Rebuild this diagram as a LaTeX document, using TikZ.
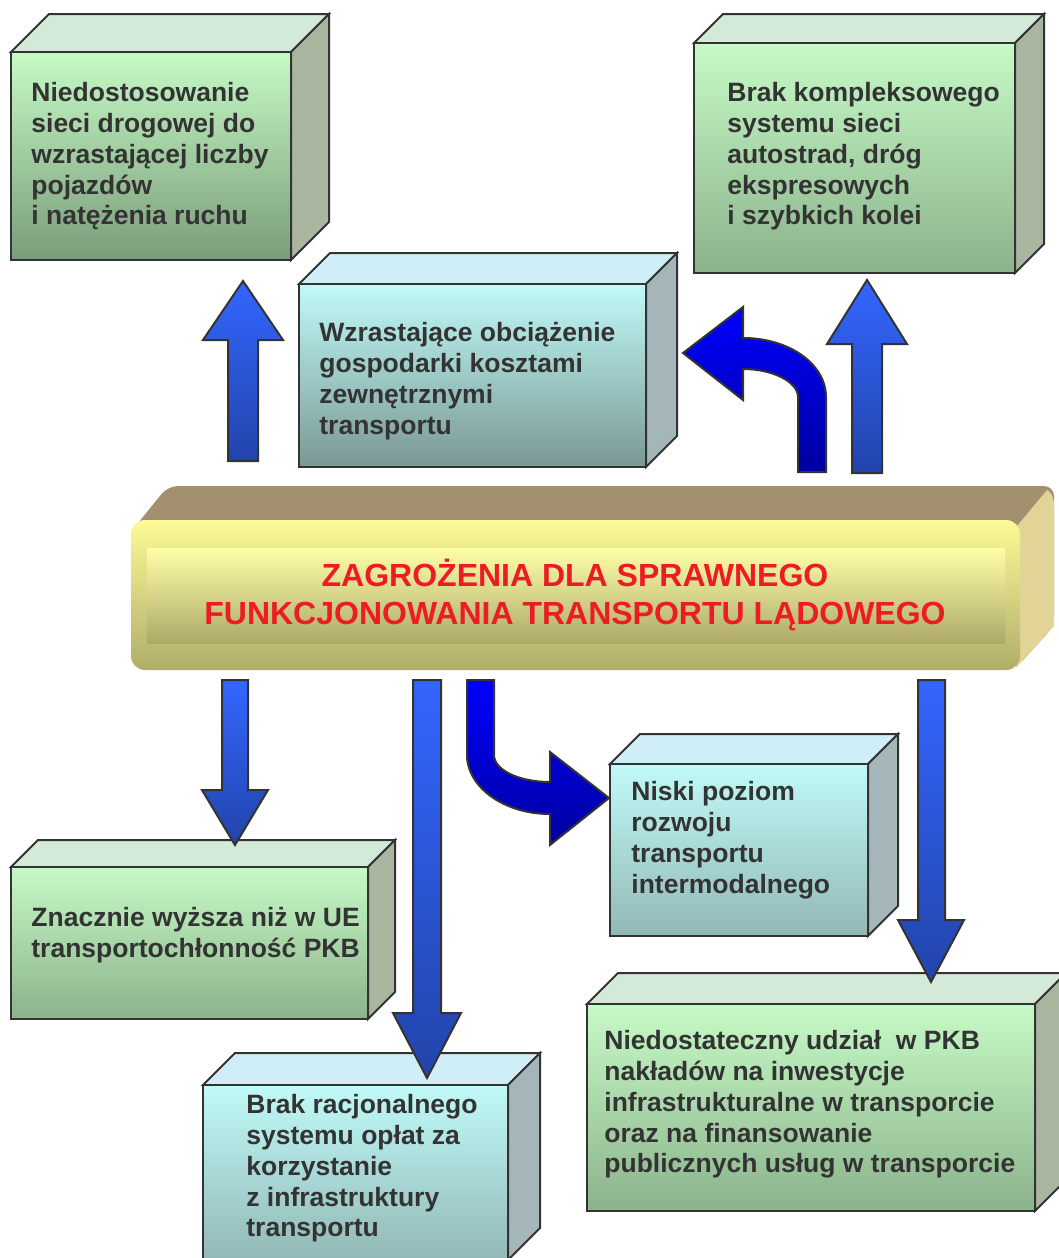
\documentclass[tikz,border=0pt]{standalone}
\usepackage{fontspec}
\setmainfont{Liberation Sans}
\definecolor{edgec}{RGB}{51,51,51}
\definecolor{txt}{RGB}{51,51,51}
\definecolor{gtop}{RGB}{212,234,216}
\definecolor{gside}{RGB}{168,182,160}
\definecolor{gfront}{RGB}{198,250,198}
\definecolor{gbotA}{RGB}{122,156,122}
\definecolor{gbotB}{RGB}{140,178,140}
\definecolor{ctop}{RGB}{208,238,248}
\definecolor{cside}{RGB}{164,182,186}
\definecolor{cfront}{RGB}{192,250,248}
\definecolor{cbotA}{RGB}{122,152,148}
\definecolor{cbotB}{RGB}{146,184,182}
\definecolor{arT}{RGB}{51,102,255}
\definecolor{arB}{RGB}{34,68,170}
\definecolor{caT}{RGB}{0,0,255}
\definecolor{caB}{RGB}{0,0,160}
\definecolor{ttl}{RGB}{237,28,36}
\definecolor{tanc}{RGB}{163,144,110}
\definecolor{beige}{RGB}{225,212,150}
\definecolor{yT}{RGB}{252,251,150}
\definecolor{yM}{RGB}{235,232,140}
\definecolor{yB}{RGB}{176,173,106}
\definecolor{yiT}{RGB}{254,254,168}
\definecolor{yiM}{RGB}{238,236,150}
\definecolor{yiB}{RGB}{172,170,104}
\newcommand\cubebox[8]{%
  \path[faceline, fill=#7top] (#2,#3) -- (#2+#6,#3-#6) -- (#4+#6,#3-#6) -- (#4,#3) -- cycle;
  \path[faceline, fill=#7side] (#4,#3) -- (#4+#6,#3-#6) -- (#4+#6,#5-#6) -- (#4,#5) -- cycle;
  \path[faceline, top color=#7front, bottom color=#8] (#2,#3) rectangle (#4,#5);
  \coordinate (#1) at (#2,#3);}
\tikzset{
  faceline/.style={draw=edgec, line width=1pt, line join=miter},
  boxtext/.style={anchor=north west, inner sep=0pt, align=left, text=txt,
    font=\fontsize{13.25}{15.4}\selectfont\bfseries},
  titletext/.style={anchor=base, inner sep=0pt, text=ttl,
    font=\fontsize{16}{19}\selectfont\bfseries},
  straightarrow/.style={draw=edgec, line width=1pt, line join=miter, top color=arT, bottom color=arB},
  curvedarrow/.style={draw=edgec, line width=1pt, line join=miter, top color=caT, bottom color=caB}
}
\begin{document}
\begin{tikzpicture}[x=0.5pt,y=-0.5pt]
\useasboundingbox (0,0) rectangle (1059,1258);
\clip (0,0) rectangle (1059,1258);

% ---- boxes ----
\cubebox{b1}{11}{52}{291}{260}{38}{g}{gbotA}
\cubebox{b2}{694}{43}{1015}{273}{29}{g}{gbotB}
\cubebox{b3}{299}{284}{646}{467}{31}{c}{cbotA}
\cubebox{b4}{610}{764}{868}{936}{30}{c}{cbotB}
\cubebox{b5}{11}{867}{368}{1019}{27}{g}{gbotB}
\cubebox{b6}{203}{1085}{508}{1260}{32}{c}{cbotB}
\cubebox{b7}{587}{1004}{1035}{1211}{31}{g}{gbotB}

\node[boxtext] (t1) at (31,82) {Niedostosowanie\\sieci drogowej do\\wzrastającej liczby\\pojazdów\\i natężenia ruchu};
\node[boxtext] (t2) at (727,82) {Brak kompleksowego\\systemu sieci\\autostrad, dróg\\ekspresowych\\i szybkich kolei};
\node[boxtext] (t3) at (319,322) {Wzrastające obciążenie\\gospodarki kosztami\\zewnętrznymi\\transportu};
\node[boxtext] (t4) at (631,781) {Niski poziom\\rozwoju\\transportu\\intermodalnego};
\node[boxtext] (t5) at (31,907) {Znacznie wyższa niż w UE\\transportochłonność PKB};
\node[boxtext] (t6) at (246,1094) {Brak racjonalnego\\systemu opłat za\\korzystanie\\z infrastruktury\\transportu};
\node[boxtext] (t7) at (604,1030) {Niedostateczny udział\ \ w PKB\\nakładów na inwestycje\\infrastrukturalne w transporcie\\oraz na finansowanie\\publicznych usług w transporcie};

% ---- main box ----
\path[fill=tanc, rounded corners=5pt] (134,528) -- (168,486) -- (1054,486) -- (1054,626) -- (1016,668) -- cycle;
\path[fill=beige] (1012,532) -- (1047,490) .. controls (1051,492) and (1054,497) .. (1054,506) -- (1054,626) -- (1016,668) -- cycle;
\path[rounded corners=7pt, top color=yT, middle color=yM, bottom color=yB] (131,520) rectangle (1020,670);
\path[top color=yiT, middle color=yiM, bottom color=yiB] (147,548) rectangle (1005,643);
\coordinate (main) at (575,595);
\node[titletext] (title1) at (575,586) {ZAGROŻENIA DLA SPRAWNEGO};
\node[titletext] (title2) at (575,624) {FUNKCJONOWANIA TRANSPORTU LĄDOWEGO};

% ---- arrows ----
\path[straightarrow] (228,461) -- (228,340) -- (203,340) -- (243,281) -- (283,340) -- (258,340) -- (258,461) -- cycle;
\path[straightarrow] (852,473) -- (852,344) -- (827,344) -- (867,280) -- (907,344) -- (882,344) -- (882,473) -- cycle;
\path[curvedarrow] (798,472) -- (798,397) .. controls (798,382) and (773,369) .. (743,369) -- (743,400) -- (683,353) -- (743,307) -- (743,338) .. controls (789,338) and (826,364) .. (826,397) -- (826,472) -- cycle;

\path[straightarrow] (222,680) -- (248,680) -- (248,790) -- (268,790) -- (235,845) -- (202,790) -- (222,790) -- cycle;
\path[straightarrow] (413,680) -- (441,680) -- (441,1013) -- (461,1013) -- (427,1078) -- (393,1013) -- (413,1013) -- cycle;
\path[straightarrow] (918,680) -- (945,680) -- (945,920) -- (964,920) -- (931,982) -- (898,920) -- (918,920) -- cycle;
\path[curvedarrow] (467,680) -- (494,680) -- (494,755) .. controls (494,770) and (519,782) .. (550,782) -- (550,752) -- (609,798) -- (550,845) -- (550,814) .. controls (504,814) and (467,787) .. (467,755) -- cycle;
\end{tikzpicture}
\end{document}
